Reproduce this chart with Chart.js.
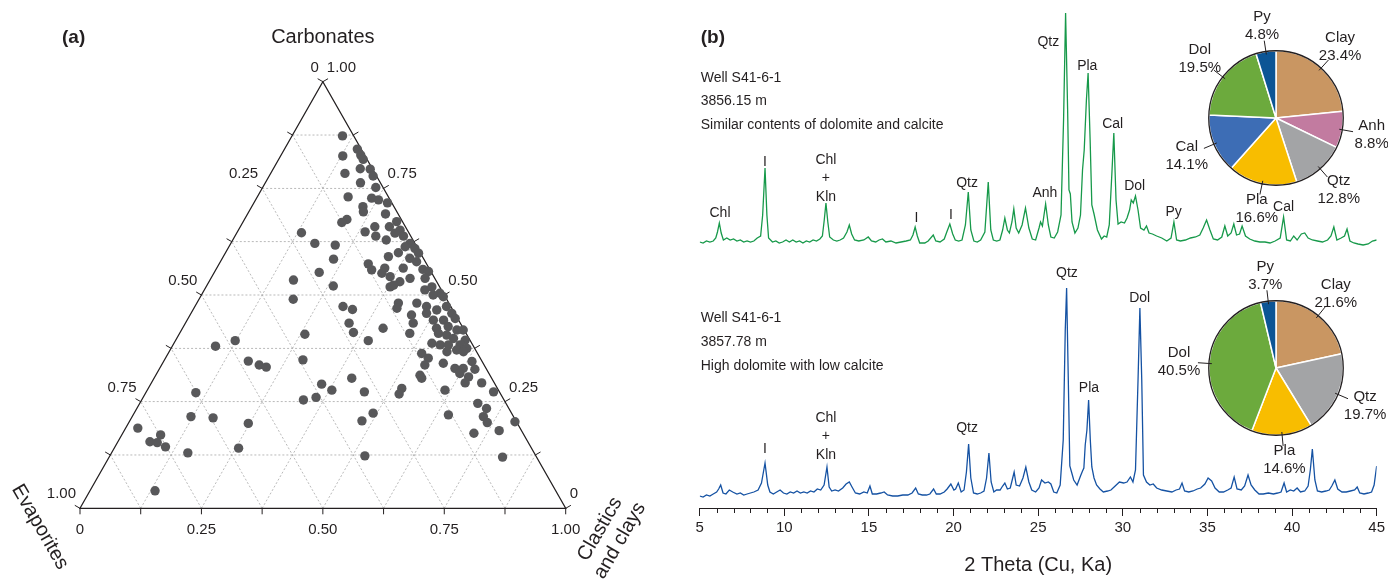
<!DOCTYPE html>
<html>
<head>
<meta charset="utf-8">
<script src="https://cdn.jsdelivr.net/npm/chart.js@4.4.1/dist/chart.umd.min.js"></script>
<style>
  html, body { margin: 0; padding: 0; background: #fff; }
  #wrap { position: relative; width: 1388px; height: 579px; overflow: hidden; }
  canvas { position: absolute; }
</style>
</head>
<body>
<div id="wrap">
  <canvas id="ternary" width="650" height="579" style="left:0;top:0"></canvas>
  <canvas id="xrd" width="738" height="579" style="left:650px;top:0"></canvas>
  <canvas id="pieTop" width="260" height="236" style="left:1146px;top:0"></canvas>
  <canvas id="pieBottom" width="260" height="236" style="left:1146px;top:250px"></canvas>
</div>
<script>
// ---- (a) ternary samples: carbonate and clastic fractions (evaporites = rest)
const carbonates = [
  0.873, 0.842, 0.828, 0.818, 0.826, 0.796, 0.795, 0.779, 0.785, 0.763,
  0.752, 0.730, 0.727, 0.723, 0.716, 0.707, 0.695, 0.690, 0.677, 0.670,
  0.672, 0.660, 0.660, 0.648, 0.652, 0.645, 0.646, 0.638, 0.629, 0.638,
  0.621, 0.617, 0.621, 0.609, 0.613, 0.599, 0.598, 0.590, 0.584, 0.586,
  0.578, 0.573, 0.559, 0.563, 0.563, 0.551, 0.543, 0.560, 0.555, 0.553,
  0.539, 0.539, 0.531, 0.519, 0.521, 0.512, 0.519, 0.504, 0.500, 0.523,
  0.496, 0.481, 0.481, 0.473, 0.466, 0.469, 0.473, 0.465, 0.473, 0.457,
  0.453, 0.457, 0.441, 0.441, 0.445, 0.434, 0.434, 0.422, 0.422, 0.426,
  0.418, 0.418, 0.412, 0.410, 0.410, 0.406, 0.398, 0.408, 0.394, 0.393,
  0.387, 0.383, 0.383, 0.383, 0.375, 0.363, 0.367, 0.371, 0.367, 0.352,
  0.340, 0.344, 0.336, 0.328, 0.328, 0.326, 0.348, 0.312, 0.316, 0.308,
  0.305, 0.305, 0.294, 0.294, 0.291, 0.277, 0.273, 0.281, 0.268, 0.277,
  0.273, 0.254, 0.260, 0.246, 0.234, 0.223, 0.205, 0.219, 0.215, 0.201,
  0.203, 0.182, 0.176, 0.123, 0.120, 0.535, 0.490, 0.380, 0.393, 0.345,
  0.336, 0.331, 0.271, 0.215, 0.212, 0.199, 0.188, 0.172, 0.156, 0.154,
  0.144, 0.141, 0.130, 0.041
];
const clastics = [
  0.104, 0.150, 0.164, 0.174, 0.128, 0.179, 0.200, 0.214, 0.153, 0.196,
  0.233, 0.187, 0.237, 0.253, 0.275, 0.229, 0.236, 0.284, 0.211, 0.204,
  0.316, 0.307, 0.277, 0.263, 0.333, 0.326, 0.133, 0.290, 0.316, 0.347,
  0.173, 0.217, 0.369, 0.385, 0.363, 0.356, 0.398, 0.340, 0.230, 0.386,
  0.404, 0.307, 0.321, 0.346, 0.384, 0.346, 0.367, 0.426, 0.440, 0.216,
  0.410, 0.441, 0.393, 0.379, 0.261, 0.454, 0.465, 0.489, 0.477, 0.384,
  0.500, 0.415, 0.453, 0.305, 0.328, 0.418, 0.477, 0.502, 0.518, 0.537,
  0.456, 0.485, 0.507, 0.528, 0.550, 0.337, 0.469, 0.413, 0.523, 0.545,
  0.567, 0.580, 0.357, 0.474, 0.533, 0.552, 0.570, 0.259, 0.596, 0.397,
  0.531, 0.550, 0.567, 0.591, 0.609, 0.522, 0.572, 0.590, 0.606, 0.541,
  0.578, 0.635, 0.542, 0.608, 0.625, 0.650, 0.285, 0.544, 0.624, 0.646,
  0.407, 0.551, 0.646, 0.680, 0.352, 0.380, 0.449, 0.522, 0.523, 0.613,
  0.715, 0.333, 0.356, 0.696, 0.720, 0.492, 0.478, 0.649, 0.723, 0.738,
  0.794, 0.772, 0.723, 0.525, 0.810, 0.172, 0.194, 0.089, 0.123, 0.174,
  0.201, 0.218, 0.103, 0.121, 0.168, 0.247, 0.025, 0.080, 0.066, 0.082,
  0.104, 0.256, 0.157, 0.134
];
const evaporites = carbonates.map((c, i) => 1 - c - clastics[i]);

// ---- (b) XRD patterns, [2 theta, intensity above own baseline]
const xrdUpper = [
  [5.0,3],[5.2,2],[5.4,4],[5.6,3],[5.8,4],[5.95,7],[6.05,13],[6.16,22],[6.27,12],[6.4,5],
  [6.6,7],[6.8,5],[7.0,6],[7.2,4],[7.4,5],[7.6,3],[7.8,4],[8.0,3],[8.2,4],[8.4,7],
  [8.6,9],[8.72,30],[8.86,77],[8.97,30],[9.07,7],[9.3,3],[9.5,4],[9.7,2],[9.9,3],[10.1,5],
  [10.3,3],[10.5,5],[10.7,3],[10.9,4],[11.1,2],[11.3,4],[11.5,3],[11.7,5],[11.9,4],[12.1,6],
  [12.25,9],[12.36,25],[12.46,42],[12.57,23],[12.68,8],[12.9,5],[13.1,4],[13.3,5],[13.5,7],[13.7,13],
  [13.84,20],[13.98,11],[14.15,5],[14.4,4],[14.7,5],[14.96,8],[15.15,4],[15.4,3],[15.6,5],[15.8,6],
  [16.0,3],[16.3,4],[16.6,2],[16.9,3],[17.2,4],[17.45,5],[17.6,10],[17.73,18],[17.86,9],[18.0,2],
  [18.3,2],[18.5,4],[18.8,10],[18.95,4],[19.2,3],[19.45,6],[19.6,13],[19.78,21],[19.95,11],[20.1,5],
  [20.3,4],[20.5,5],[20.7,20],[20.87,53],[21.02,15],[21.2,4],[21.4,3],[21.6,5],[21.85,13],[22.05,63],
  [22.2,15],[22.35,5],[22.55,4],[22.74,5],[22.9,15],[23.03,27],[23.18,15],[23.3,12],[23.45,23],[23.56,36],
  [23.7,17],[23.85,12],[24.05,20],[24.25,37],[24.45,17],[24.65,6],[24.85,5],[25.05,17],[25.14,23],[25.25,19],
  [25.44,41],[25.6,20],[25.75,8],[25.95,7],[26.15,13],[26.35,30],[26.5,125],[26.62,232],[26.74,135],[26.82,55],
  [26.9,51],[27.0,23],[27.17,12],[27.35,17],[27.5,30],[27.62,75],[27.72,95],[27.85,145],[27.95,172],[28.07,105],
  [28.17,40],[28.3,31],[28.5,15],[28.74,6],[28.9,9],[29.05,8],[29.2,20],[29.35,70],[29.47,112],[29.6,45],
  [29.72,21],[29.9,23],[30.1,22],[30.25,27],[30.4,35],[30.5,45],[30.62,42],[30.75,49],[30.9,35],[31.05,17],
  [31.25,15],[31.4,19],[31.55,12],[31.75,11],[32.0,9],[32.3,7],[32.6,4],[32.85,7],[33.02,23],[33.18,5],
  [33.4,4],[33.7,5],[34.0,7],[34.3,8],[34.55,10],[34.75,17],[34.95,25],[35.15,15],[35.35,6],[35.6,5],
  [35.85,8],[36.03,19],[36.2,9],[36.4,12],[36.56,21],[36.72,10],[36.9,11],[37.05,19],[37.25,9],[37.5,6],
  [37.8,4],[38.1,3],[38.4,3],[38.7,2],[39.0,4],[39.3,7],[39.5,28],[39.68,5],[39.9,4],[40.1,9],
  [40.3,5],[40.55,11],[40.75,12],[40.95,7],[41.2,5],[41.5,4],[41.8,3],[42.1,5],[42.3,9],[42.47,18],
  [42.65,5],[42.9,7],[43.1,9],[43.25,16],[43.42,4],[43.65,2],[43.9,1],[44.2,0],[44.5,1],[44.75,4],
  [45.0,5]
];
const xrdLower = [
  [5.0,2],[5.2,1],[5.4,3],[5.6,2],[5.8,4],[6.0,6],[6.12,9],[6.24,13],[6.38,5],[6.55,4],
  [6.75,8],[6.95,6],[7.2,4],[7.4,5],[7.6,3],[7.8,4],[8.0,5],[8.2,6],[8.45,8],[8.65,15],
  [8.86,35],[9.02,13],[9.15,6],[9.35,4],[9.55,6],[9.75,8],[9.95,5],[10.15,4],[10.35,6],[10.55,5],
  [10.75,7],[10.95,5],[11.15,6],[11.35,5],[11.55,7],[11.75,6],[11.95,9],[12.15,8],[12.35,13],[12.52,31],
  [12.65,11],[12.8,7],[13.0,8],[13.2,7],[13.45,10],[13.65,14],[13.84,16],[14.0,11],[14.2,5],[14.45,4],
  [14.7,6],[14.9,5],[15.06,12],[15.2,4],[15.45,4],[15.7,5],[15.9,6],[16.1,3],[16.4,2],[16.7,2],
  [17.0,3],[17.3,3],[17.55,5],[17.76,10],[17.92,4],[18.15,3],[18.4,3],[18.6,4],[18.82,9],[18.98,4],
  [19.2,4],[19.45,6],[19.62,9],[19.84,14],[20.02,8],[20.12,9],[20.28,15],[20.45,6],[20.62,8],[20.76,26],
  [20.89,54],[21.02,20],[21.18,5],[21.4,4],[21.6,5],[21.8,7],[21.95,20],[22.09,45],[22.22,16],[22.38,6],
  [22.54,8],[22.75,8],[22.9,12],[23.03,15],[23.18,9],[23.35,10],[23.48,19],[23.58,26],[23.7,13],[23.9,12],
  [24.1,20],[24.27,31],[24.45,16],[24.62,8],[24.85,6],[25.05,10],[25.2,18],[25.4,15],[25.6,16],[25.75,14],
  [25.92,6],[26.1,5],[26.3,13],[26.48,58],[26.6,168],[26.68,210],[26.78,118],[26.87,32],[26.97,26],[27.1,18],
  [27.3,13],[27.5,22],[27.62,27],[27.7,30],[27.78,53],[27.88,68],[27.98,98],[28.08,58],[28.17,31],[28.3,20],
  [28.45,13],[28.65,9],[28.85,6],[29.1,7],[29.3,8],[29.55,12],[29.8,16],[30.05,15],[30.25,16],[30.45,21],
  [30.6,16],[30.75,28],[30.9,118],[31.01,190],[31.12,118],[31.22,23],[31.4,16],[31.6,13],[31.8,14],[32.0,10],
  [32.3,8],[32.6,7],[32.9,6],[33.15,8],[33.35,9],[33.5,15],[33.65,7],[33.9,6],[34.15,7],[34.4,9],
  [34.6,10],[34.85,14],[35.04,20],[35.25,17],[35.45,10],[35.7,6],[35.95,6],[36.2,8],[36.4,10],[36.58,21],
  [36.75,9],[37.0,8],[37.2,12],[37.4,23],[37.58,13],[37.8,8],[38.05,4],[38.3,4],[38.6,5],[38.9,4],
  [39.15,5],[39.35,6],[39.53,15],[39.68,6],[39.9,8],[40.1,7],[40.3,10],[40.5,6],[40.75,7],[40.95,12],
  [41.08,28],[41.2,49],[41.35,18],[41.5,7],[41.75,6],[42.0,7],[42.2,8],[42.35,12],[42.53,18],[42.7,9],
  [42.95,6],[43.2,6],[43.45,7],[43.7,8],[43.85,11],[44.0,5],[44.25,4],[44.5,5],[44.7,6],[44.85,13],
  [45.0,32]
];
const xTicks = [5, 10, 15, 20, 25, 30, 35, 40, 45];

// peak labels: text, 2 theta, height above own baseline
const upperPeakText  = ['Chl', 'I', ['Chl', '+', 'Kln'], 'I', 'I', 'Qtz', 'Anh', 'Qtz', 'Pla', 'Cal', 'Dol', 'Py', 'Cal'];
const upperPeakTheta = [6.2, 8.86, 12.46, 17.8, 19.85, 20.8, 25.4, 25.6, 27.9, 29.4, 30.7, 33.0, 39.5];
const upperPeakLevel = [32, 83, 48, 27, 30, 62, 52, 203, 179, 121, 59, 33, 38];
const lowerPeakText  = ['I', ['Chl', '+', 'Kln'], 'Qtz', 'Qtz', 'Pla', 'Dol'];
const lowerPeakTheta = [8.86, 12.46, 20.8, 26.7, 28.0, 31.0];
const lowerPeakLevel = [49, 43, 70, 225, 110, 200];

const upperNotes = ['Well S41-6-1', '3856.15 m', 'Similar contents of dolomite and calcite'];
const lowerNotes = ['Well S41-6-1', '3857.78 m', 'High dolomite with low calcite'];

// pies
const pieTopLabels = ['Clay', 'Anh', 'Qtz', 'Pla', 'Cal', 'Dol', 'Py'];
const pieTopValues = [23.4, 8.8, 12.8, 16.6, 14.1, 19.5, 4.8];
const pieBottomLabels = ['Clay', 'Qtz', 'Pla', 'Dol', 'Py'];
const pieBottomValues = [21.6, 19.7, 14.6, 40.5, 3.7];

const mineralColors = {
  Clay: '#c99662', Anh: '#c27ba0', Qtz: '#a3a4a6', Pla: '#f8bd00',
  Cal: '#3d6db5', Dol: '#6caa3d', Py: '#0c5595'
};

const INK = '#231f20';
const FONT = '"Liberation Sans", Arial, Helvetica, sans-serif';
const SIN60 = Math.sqrt(3) / 2;
const UPPER_OFFSET = 263;
const LOWER_OFFSET = 10;

Chart.defaults.font.family = FONT;
Chart.defaults.color = INK;
Chart.defaults.animation = false;
Chart.defaults.plugins.legend.display = false;
Chart.defaults.plugins.tooltip.enabled = false;

// ---------- (a) ternary ----------
const ternaryFrame = {
  id: 'ternaryFrame',
  beforeDatasetsDraw(chart) {
    const { ctx, scales: { x, y } } = chart;
    const pt = (carb, clast) => [x.getPixelForValue(clast + carb / 2), y.getPixelForValue(carb * SIN60)];
    const seg = (a, b) => { ctx.beginPath(); ctx.moveTo(a[0], a[1]); ctx.lineTo(b[0], b[1]); ctx.stroke(); };
    ctx.save();
    // dotted grid every 0.125
    ctx.strokeStyle = '#a8a8a8';
    ctx.lineWidth = 0.8;
    ctx.setLineDash([2, 2]);
    for (let i = 1; i < 8; i++) {
      const f = i / 8;
      seg(pt(f, 0), pt(f, 1 - f));
      seg(pt(0, f), pt(1 - f, f));
      seg(pt(0, 1 - f), pt(1 - f, 0));
    }
    ctx.setLineDash([]);
    ctx.strokeStyle = INK;
    ctx.lineWidth = 1.3;
    const a = pt(0, 0), b = pt(0, 1), c = pt(1, 0);
    ctx.beginPath();
    ctx.moveTo(a[0], a[1]); ctx.lineTo(b[0], b[1]); ctx.lineTo(c[0], c[1]); ctx.closePath();
    ctx.stroke();
    // ticks + labels
    ctx.lineWidth = 1;
    ctx.font = '15px ' + FONT;
    ctx.fillStyle = INK;
    ctx.textBaseline = 'middle';
    for (let i = 0; i <= 8; i++) {
      const f = i / 8;
      const bt = pt(0, f);
      const lt = pt(1 - f, 0);
      const rt = pt(f, 1 - f);
      seg(bt, [bt[0], bt[1] + 6]);
      seg(lt, [lt[0] - 5.2, lt[1] - 3]);
      seg(rt, [rt[0] + 5.2, rt[1] - 3]);
      if (i % 2 === 0) {
        const txt = i === 0 ? '0' : f.toFixed(2);
        ctx.textAlign = 'center'; ctx.fillText(txt, bt[0], bt[1] + 22);
        ctx.textAlign = 'right'; ctx.fillText(txt, lt[0] - 4, lt[1] - 14);
        ctx.textAlign = 'left'; ctx.fillText(txt, rt[0] + 4, rt[1] - 14);
      }
    }
    // titles
    ctx.font = '20px ' + FONT;
    ctx.textAlign = 'center';
    ctx.fillText('Carbonates', c[0], 37);
    ctx.save();
    ctx.translate(40, 527);
    ctx.rotate(Math.PI / 3);
    ctx.fillText('Evaporites', 0, 0);
    ctx.restore();
    ctx.save();
    ctx.translate(610, 535);
    ctx.rotate(-Math.PI / 3);
    ctx.fillText('Clastics', 0, -11.5);
    ctx.fillText('and clays', 0, 11.5);
    ctx.restore();
    ctx.font = 'bold 19px ' + FONT;
    ctx.textAlign = 'left';
    ctx.fillText('(a)', 62, 38);
    ctx.restore();
  }
};

new Chart(document.getElementById('ternary'), {
  type: 'scatter',
  data: {
    datasets: [{
      data: carbonates.map((cb, i) => ({ x: clastics[i] + cb / 2, y: cb * SIN60, evap: evaporites[i] })),
      backgroundColor: '#58585a',
      borderWidth: 0,
      pointRadius: 4.7,
      clip: false
    }]
  },
  options: {
    responsive: false,
    layout: { padding: { left: 80, right: 84.3, top: 81.7, bottom: 70.7 } },
    scales: {
      x: { type: 'linear', min: 0, max: 1, display: false },
      y: { type: 'linear', min: 0, max: SIN60, display: false }
    }
  },
  plugins: [ternaryFrame]
});

// ---------- (b) XRD ----------
const xrdDecor = {
  id: 'xrdDecor',
  afterDatasetsDraw(chart) {
    const { ctx, scales: { x, y } } = chart;
    ctx.save();
    // minor ticks every degree
    ctx.strokeStyle = INK;
    ctx.lineWidth = 1;
    for (let t = 6; t < 45; t++) {
      if (t % 5 === 0) continue;
      const px = Math.round(x.getPixelForValue(t)) + 0.5;
      ctx.beginPath(); ctx.moveTo(px, y.bottom); ctx.lineTo(px, y.bottom + 5); ctx.stroke();
    }
    ctx.fillStyle = INK;
    ctx.textBaseline = 'middle';
    ctx.font = '14px ' + FONT;
    ctx.textAlign = 'center';
    const drawPeaks = (texts, thetas, levels, offset) => {
      texts.forEach((txt, i) => {
        const lines = Array.isArray(txt) ? txt : [txt];
        const px = x.getPixelForValue(thetas[i]);
        const py = y.getPixelForValue(offset + levels[i]);
        lines.forEach((ln, j) => ctx.fillText(ln, px, py - (lines.length - 1 - j) * 18.5));
      });
    };
    drawPeaks(upperPeakText, upperPeakTheta, upperPeakLevel, UPPER_OFFSET);
    drawPeaks(lowerPeakText, lowerPeakTheta, lowerPeakLevel, LOWER_OFFSET);
    // sample notes
    ctx.textAlign = 'left';
    const left = x.getPixelForValue(5) + 1;
    upperNotes.forEach((s, i) => ctx.fillText(s, left, y.getPixelForValue(UPPER_OFFSET + 167 - i * 23.5)));
    lowerNotes.forEach((s, i) => ctx.fillText(s, left, y.getPixelForValue(LOWER_OFFSET + 180 - i * 24)));
    ctx.font = 'bold 19px ' + FONT;
    ctx.fillText('(b)', left, 38);
    ctx.restore();
  }
};

new Chart(document.getElementById('xrd'), {
  type: 'line',
  data: {
    datasets: [
      {
        data: xrdUpper.map(([t, v]) => ({ x: t, y: UPPER_OFFSET + v })),
        borderColor: '#17994a', borderWidth: 1.3, pointRadius: 0, tension: 0
      },
      {
        data: xrdLower.map(([t, v]) => ({ x: t, y: LOWER_OFFSET + v })),
        borderColor: '#1552a3', borderWidth: 1.3, pointRadius: 0, tension: 0
      }
    ]
  },
  options: {
    responsive: false,
    layout: { padding: { left: 49.7, right: 11, top: 10, bottom: 0 } },
    scales: {
      x: {
        type: 'linear', min: 5, max: 45,
        afterBuildTicks: (s) => { s.ticks = xTicks.map(v => ({ value: v })); },
        afterFit: (s) => { s.height = 71; },
        ticks: { font: { size: 15 }, color: INK, padding: 3, maxRotation: 0, autoSkip: false },
        grid: { drawOnChartArea: false, drawTicks: true, tickLength: 8, tickColor: INK, color: INK },
        border: { display: true, color: INK, width: 1 },
        title: { display: true, text: '2 Theta (Cu, Ka)', font: { size: 20 }, color: INK, padding: { top: 0, bottom: 2 } }
      },
      y: { type: 'linear', min: 0, max: 498, display: false }
    }
  },
  plugins: [xrdDecor]
});

// ---------- pies ----------
const pieDecor = {
  id: 'pieDecor',
  afterDatasetsDraw(chart) {
    const { ctx } = chart;
    const meta = chart.getDatasetMeta(0);
    const names = chart.data.labels;
    const vals = chart.data.datasets[0].data;
    let cx = 0, cy = 0, rr = 0;
    ctx.save();
    ctx.strokeStyle = INK;
    ctx.fillStyle = INK;
    ctx.font = '15px ' + FONT;
    ctx.textAlign = 'center';
    ctx.textBaseline = 'middle';
    meta.data.forEach((arc, i) => {
      const p = arc.getProps(['x', 'y', 'startAngle', 'endAngle', 'outerRadius'], true);
      cx = p.x; cy = p.y; rr = p.outerRadius;
      const mid = (p.startAngle + p.endAngle) / 2;
      const dx = Math.cos(mid), dy = Math.sin(mid);
      ctx.lineWidth = 1;
      ctx.beginPath();
      ctx.moveTo(cx + dx * (rr - 3), cy + dy * (rr - 3));
      ctx.lineTo(cx + dx * (rr + 11), cy + dy * (rr + 11));
      ctx.stroke();
      const d = rr + 25 + 5 * Math.abs(dx);
      const lx = cx + dx * d, ly = cy + dy * d;
      ctx.fillText(names[i], lx, ly - 9);
      ctx.fillText(vals[i].toFixed(1) + '%', lx, ly + 9);
    });
    ctx.lineWidth = 1.3;
    ctx.beginPath();
    ctx.arc(cx, cy, rr, 0, Math.PI * 2);
    ctx.stroke();
    ctx.restore();
  }
};

function makePie(id, labels, values) {
  return new Chart(document.getElementById(id), {
    type: 'pie',
    data: {
      labels: labels,
      datasets: [{
        data: values,
        backgroundColor: labels.map(l => mineralColors[l]),
        borderColor: '#ffffff',
        borderWidth: 1.5,
        hoverOffset: 0
      }]
    },
    options: {
      responsive: false,
      layout: { padding: { left: 62, right: 62, top: 50, bottom: 50 } }
    },
    plugins: [pieDecor]
  });
}

makePie('pieTop', pieTopLabels, pieTopValues);
makePie('pieBottom', pieBottomLabels, pieBottomValues);
</script>
</body>
</html>
